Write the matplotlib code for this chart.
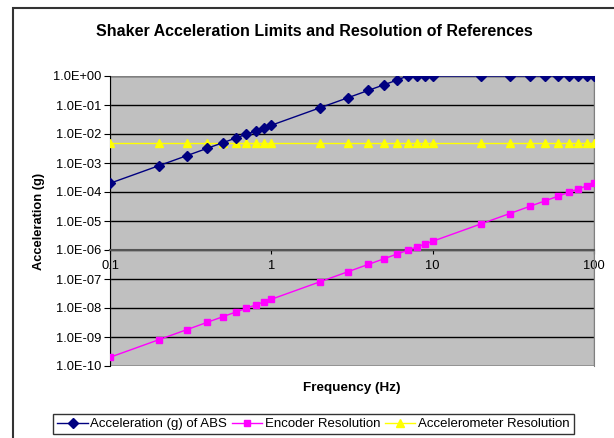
import matplotlib.pyplot as plt
import matplotlib.patches as mpatches
from matplotlib.ticker import FixedLocator, NullLocator

plt.rcParams['font.family'] = ['Liberation Sans', 'DejaVu Sans']

# frequencies (Hz)
freq = [0.1, 0.2, 0.3, 0.4, 0.5, 0.6, 0.7, 0.8, 0.9, 1,
        2, 3, 4, 5, 6, 7, 8, 9, 10,
        20, 30, 40, 50, 60, 70, 80, 90, 100]

# acceleration limit of shaker (g)
accel_abs = [2.0e-4, 8.0e-4, 1.8e-3, 3.2e-3, 5.0e-3, 7.2e-3, 9.8e-3, 1.28e-2, 1.62e-2, 2.0e-2,
             8.0e-2, 1.8e-1, 3.2e-1, 5.0e-1, 7.2e-1, 1.0, 1.0, 1.0, 1.0,
             1.0, 1.0, 1.0, 1.0, 1.0, 1.0, 1.0, 1.0, 1.0]

# encoder resolution (g)
encoder = [2.0e-10, 8.0e-10, 1.8e-9, 3.2e-9, 5.0e-9, 7.2e-9, 9.8e-9, 1.28e-8, 1.62e-8, 2.0e-8,
           8.0e-8, 1.8e-7, 3.2e-7, 5.0e-7, 7.2e-7, 9.8e-7, 1.28e-6, 1.62e-6, 2.0e-6,
           8.0e-6, 1.8e-5, 3.2e-5, 5.0e-5, 7.2e-5, 9.8e-5, 1.28e-4, 1.62e-4, 2.0e-4]

# accelerometer resolution (g)
accelerometer = [5.0e-3] * len(freq)

y_ticks = [1e-10, 1e-9, 1e-8, 1e-7, 1e-6, 1e-5, 1e-4, 1e-3, 1e-2, 1e-1, 1e0]
y_labels = ['1.0E-10', '1.0E-09', '1.0E-08', '1.0E-07', '1.0E-06', '1.0E-05',
            '1.0E-04', '1.0E-03', '1.0E-02', '1.0E-01', '1.0E+00']
x_ticks = [0.1, 1, 10, 100]
x_labels = ['0.1', '1', '10', '100']

fig = plt.figure(figsize=(6.14, 4.38), dpi=100)
# outer chart border
fig.patches.append(mpatches.Rectangle((13 / 614, -0.2), 1.2, 1.2 - 8 / 438,
                                      transform=fig.transFigure, fill=False,
                                      edgecolor='#333333', linewidth=1.5))

ax = fig.add_axes([110 / 614, 1 - 366 / 438, 484 / 614, 290 / 438])
ax.set_facecolor('#C0C0C0')

ax.plot(freq, accel_abs, color='#000080', lw=1, marker='D', ms=5,
        label='Acceleration (g) of ABS', zorder=4)
ax.plot(freq, encoder, color='#FF00FF', lw=1, marker='s', ms=5,
        label='Encoder Resolution', zorder=4)
ax.plot(freq, accelerometer, color='#FFFF00', lw=1, marker='^', ms=6,
        label='Accelerometer Resolution', zorder=3)

ax.set_xscale('log')
ax.set_yscale('log')
ax.set_xlim(0.1, 100)
ax.set_ylim(1e-10, 1e0)

ax.yaxis.set_major_locator(FixedLocator(y_ticks))
ax.set_yticklabels(y_labels)
ax.yaxis.set_minor_locator(NullLocator())
ax.xaxis.set_major_locator(FixedLocator(x_ticks))
ax.set_xticklabels(x_labels)
ax.xaxis.set_minor_locator(NullLocator())

ax.grid(axis='y', color='black', lw=1)
ax.set_axisbelow(True)

ax.spines['bottom'].set_position(('data', 1e-6))
ax.spines['bottom'].set_color('#555555')
ax.spines['bottom'].set_linewidth(1.5)
ax.spines['top'].set_visible(False)
ax.spines['right'].set_color('#808080')
ax.spines['left'].set_color('black')
ax.add_patch(mpatches.Rectangle((0, 0), 1, 1, transform=ax.transAxes, fill=False,
                                edgecolor='#808080', lw=1, zorder=1))

ax.tick_params(axis='y', direction='out', length=4, labelsize=9.3, pad=2)
ax.tick_params(axis='x', direction='out', length=3, labelsize=9.3, pad=4)

fig.text(314.5 / 614, 1 - 32 / 438, 'Shaker Acceleration Limits and Resolution of References',
         fontsize=11.5, fontweight='bold', ha='center', va='center')
ax.set_ylabel('Acceleration (g)', fontsize=9.3, fontweight='bold', labelpad=6)
fig.text((110 + 594) / 2 / 614, 1 - 388 / 438, 'Frequency (Hz)', fontsize=9.7,
         fontweight='bold', ha='center', va='center')

leg = fig.legend(loc='center', bbox_to_anchor=(313.5 / 614, 1 - 424 / 438), ncol=3,
                 fontsize=9.5, frameon=True, fancybox=False, edgecolor='black',
                 handlelength=2.3, handletextpad=0.2, columnspacing=0.35,
                 borderpad=0.3, borderaxespad=0)
leg.get_frame().set_linewidth(1)

fig.savefig('out.png', dpi=100)
